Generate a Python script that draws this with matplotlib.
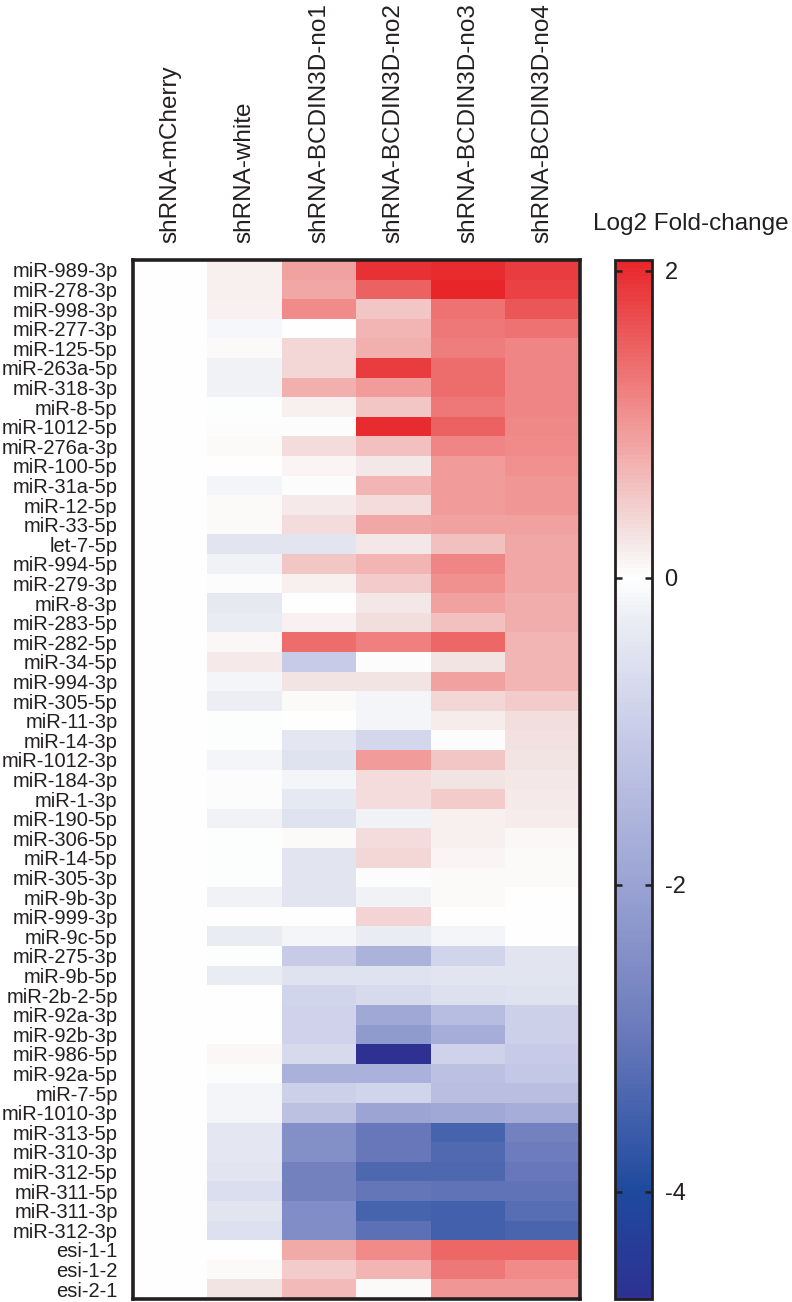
import numpy as np
import matplotlib
matplotlib.use("Agg")
import matplotlib.pyplot as plt
from matplotlib.colors import LinearSegmentedColormap, Normalize

plt.rcParams['font.family'] = ['Liberation Sans', 'DejaVu Sans']

mirnas = ["miR-989-3p", "miR-278-3p", "miR-998-3p", "miR-277-3p", "miR-125-5p",
          "miR-263a-5p", "miR-318-3p", "miR-8-5p", "miR-1012-5p", "miR-276a-3p",
          "miR-100-5p", "miR-31a-5p", "miR-12-5p", "miR-33-5p", "let-7-5p",
          "miR-994-5p", "miR-279-3p", "miR-8-3p", "miR-283-5p", "miR-282-5p",
          "miR-34-5p", "miR-994-3p", "miR-305-5p", "miR-11-3p", "miR-14-3p",
          "miR-1012-3p", "miR-184-3p", "miR-1-3p", "miR-190-5p", "miR-306-5p",
          "miR-14-5p", "miR-305-3p", "miR-9b-3p", "miR-999-3p", "miR-9c-5p",
          "miR-275-3p", "miR-9b-5p", "miR-2b-2-5p", "miR-92a-3p", "miR-92b-3p",
          "miR-986-5p", "miR-92a-5p", "miR-7-5p", "miR-1010-3p", "miR-313-5p",
          "miR-310-3p", "miR-312-5p", "miR-311-5p", "miR-311-3p", "miR-312-3p",
          "esi-1-1", "esi-1-2", "esi-2-1"]

samples = ["shRNA-mCherry", "shRNA-white", "shRNA-BCDIN3D-no1",
           "shRNA-BCDIN3D-no2", "shRNA-BCDIN3D-no3", "shRNA-BCDIN3D-no4"]

mcherry = [0.0] * 53
white = [0.15, 0.15, 0.12, -0.12, 0.06, -0.20, -0.20, -0.03, 0.03, 0.05,
         0.00, -0.15, 0.04, 0.05, -0.45, -0.20, 0.03, -0.35, -0.30, 0.08,
         0.20, -0.15, -0.25, -0.02, -0.02, -0.15, 0.03, 0.03, -0.20, -0.02,
         -0.02, -0.02, -0.20, 0.00, -0.30, -0.03, -0.30, 0.00, 0.00, 0.00,
         0.08, 0.03, -0.15, -0.15, -0.40, -0.40, -0.45, -0.60, -0.45, -0.55,
         0.00, 0.05, 0.25]
no1 = [0.90, 0.85, 1.10, 0.00, 0.40, 0.40, 0.75, 0.15, 0.03, 0.35,
       0.10, 0.03, 0.20, 0.35, -0.45, 0.55, 0.15, 0.00, 0.12, 1.40,
       -1.00, 0.25, 0.06, 0.00, -0.40, -0.50, -0.15, -0.35, -0.50, 0.05,
       -0.45, -0.45, -0.45, 0.00, -0.15, -1.00, -0.50, -0.80, -0.85, -0.85,
       -0.70, -1.65, -0.90, -1.25, -2.45, -2.45, -2.75, -2.75, -2.50, -2.50,
       0.82, 0.50, 0.65]
no2 = [1.95, 1.50, 0.55, 0.70, 0.75, 1.85, 0.95, 0.55, 2.00, 0.60,
       0.22, 0.70, 0.35, 0.85, 0.22, 0.70, 0.50, 0.22, 0.30, 1.20,
       0.03, 0.25, -0.15, -0.15, -0.75, 0.95, 0.35, 0.35, -0.20, 0.33,
       0.40, 0.03, -0.20, 0.42, -0.30, -1.60, -0.50, -0.70, -1.85, -2.20,
       -4.70, -1.65, -0.80, -1.95, -3.00, -3.00, -3.35, -3.05, -3.45, -3.15,
       1.10, 0.70, 0.05]
no3 = [2.00, 2.05, 1.35, 1.30, 1.25, 1.40, 1.40, 1.30, 1.50, 1.15,
       0.95, 0.95, 0.95, 0.90, 0.60, 1.15, 1.05, 0.90, 0.60, 1.45,
       0.25, 0.90, 0.40, 0.18, 0.03, 0.55, 0.25, 0.50, 0.15, 0.15,
       0.10, 0.06, 0.04, 0.00, -0.15, -0.80, -0.45, -0.55, -1.35, -1.75,
       -0.85, -1.25, -1.30, -1.85, -3.45, -3.30, -3.35, -3.10, -3.50, -3.50,
       1.45, 1.30, 1.00]
no4 = [1.85, 1.80, 1.60, 1.35, 1.15, 1.15, 1.15, 1.15, 1.12, 1.10,
       1.05, 1.00, 1.00, 0.90, 0.85, 0.85, 0.85, 0.80, 0.80, 0.72,
       0.72, 0.72, 0.50, 0.32, 0.28, 0.25, 0.22, 0.20, 0.18, 0.08,
       0.06, 0.05, 0.00, 0.00, 0.00, -0.45, -0.45, -0.50, -0.90, -0.90,
       -1.00, -1.10, -1.30, -1.75, -2.75, -2.90, -3.00, -3.10, -3.20, -3.40,
       1.45, 1.10, 1.00]

vmin, vmax = -4.7, 2.07
cbar_ticks = [2, 0, -2, -4]

data = np.array([mcherry, white, no1, no2, no3, no4]).T

stops = [(-4.7, "#2e3192"), (-4.0, "#1e4a9e"), (-3.0, "#6878ba"),
         (-2.0, "#9aa3d3"), (-1.0, "#c8cce8"), (-0.25, "#eceef4"),
         (0.0, "#ffffff"), (0.25, "#f4e6e6"),
         (1.0, "#f19896"), (2.07, "#e8262a")]
cmap = LinearSegmentedColormap.from_list(
    "fc", [((v - vmin) / (vmax - vmin), c) for v, c in stops])
norm = Normalize(vmin=vmin, vmax=vmax)

W, H = 792, 1302
fig = plt.figure(figsize=(W / 100, H / 100), dpi=100)
ax = fig.add_axes([133 / W, 1 - 1299 / H, 447 / W, (1299 - 260) / H])
im = ax.imshow(data, cmap=cmap, norm=norm, aspect='auto', interpolation='nearest')

tc = "#231f20"
ax.set_yticks(np.arange(len(mirnas)))
ax.set_yticklabels(mirnas, fontsize=14.5, color=tc)
ax.set_xticks(np.arange(len(samples)))
ax.set_xticklabels(samples, rotation=90, fontsize=17.5, color=tc)
ax.xaxis.tick_top()
ax.tick_params(axis='both', length=0)
ax.tick_params(axis='x', pad=12)
ax.tick_params(axis='y', pad=11)
for s in ax.spines.values():
    s.set_linewidth(2.6)
    s.set_color(tc)

cax = fig.add_axes([615 / W, 1 - 1299 / H, 37 / W, (1299 - 260) / H])
cb = fig.colorbar(im, cax=cax, ticks=cbar_ticks)
cb.outline.set_linewidth(2.0)
cb.outline.set_edgecolor(tc)
cax.tick_params(direction='in', left=True, right=True, length=5, width=1.8,
                color=tc, labelsize=17, labelcolor=tc, pad=9)
cax.set_yticklabels([str(t) for t in cbar_ticks])
fig.text(593 / W, 1 - 230 / H, "Log2 Fold-change", fontsize=17.5, color=tc,
         ha='left', va='baseline')

fig.savefig("out.png", dpi=100)
